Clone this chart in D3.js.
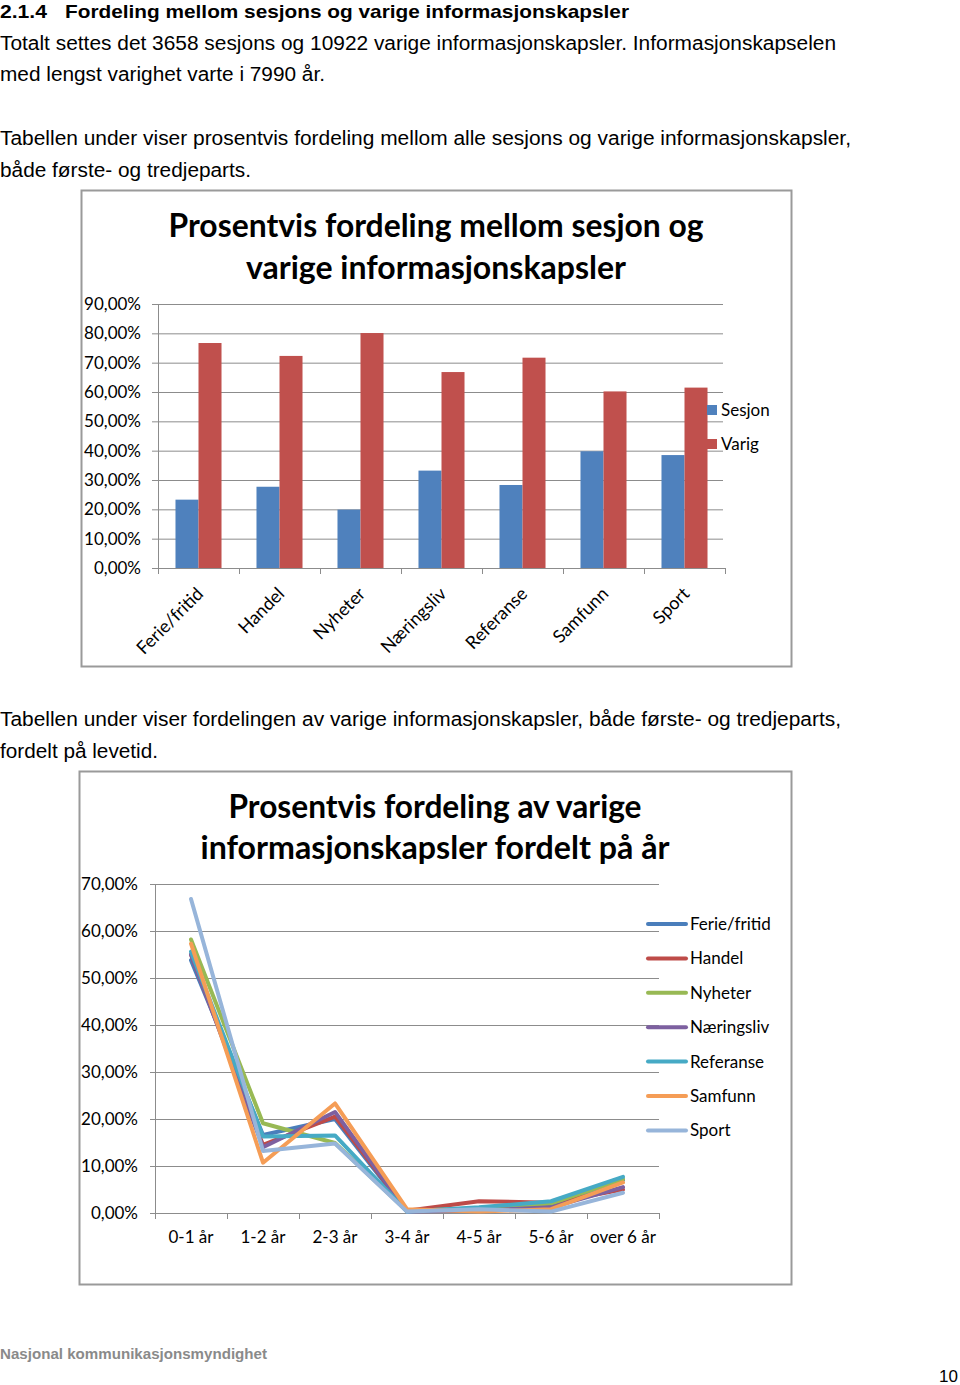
<!DOCTYPE html>
<html><head><meta charset="utf-8">
<script src="https://cdn.jsdelivr.net/npm/d3@7"></script>
<style>
html,body{margin:0;padding:0;background:#fff;}
svg{display:block;}
</style></head>
<body>
<script>
// ---------- DATA ----------
const barCategories = ["Ferie/fritid","Handel","Nyheter","Næringsliv","Referanse","Samfunn","Sport"];
const barSeries = ["Sesjon","Varig"];
const sesjonValues = [23.3, 27.7, 19.9, 33.2, 28.3, 39.8, 38.5];
const varigValues  = [76.7, 72.3, 80.1, 66.8, 71.7, 60.2, 61.5];
const barTicks = [0,10,20,30,40,50,60,70,80,90];

const lineCategories = ["0-1 år","1-2 år","2-3 år","3-4 år","4-5 år","5-6 år","over 6 år"];
const lineSeriesNames = ["Ferie/fritid","Handel","Nyheter","Næringsliv","Referanse","Samfunn","Sport"];
const ferieValues     = [53.8, 16.6, 20.0, 0.3, 0.8, 1.5, 7.0];
const handelValues    = [55.0, 14.5, 20.5, 0.5, 2.5, 2.2, 5.0];
const nyheterValues   = [58.2, 19.1, 14.9, 0.4, 1.0, 2.0, 7.2];
const naringslivValues= [55.0, 14.0, 21.5, 0.3, 0.5, 1.2, 5.5];
const referanseValues = [55.6, 16.3, 16.5, 0.3, 1.2, 2.5, 7.7];
const samfunnValues   = [57.3, 10.7, 23.3, 0.8, 0.3, 0.8, 6.5];
const sportValues     = [66.8, 13.2, 14.8, 0.3, 0.8, 0.3, 4.3];
const lineTicks = [0,10,20,30,40,50,60,70];

const W = 960, H = 1385;
const svg = d3.select("body").append("svg").attr("width", W).attr("height", H);

const bodyFont = "'Liberation Sans', Arial, sans-serif";
const chartFont = "Lato, 'Open Sans', sans-serif";
const pct = d => d.toFixed(2).replace(".", ",") + "%";

function txt(x, y, s, opts) {
  const t = svg.append("text").attr("x", x).attr("y", y).text(s)
    .attr("font-family", opts.font || bodyFont)
    .attr("font-size", opts.size || 19)
    .attr("font-weight", opts.bold ? "bold" : "normal")
    .attr("fill", opts.fill || "#000");
  if (opts.anchor) t.attr("text-anchor", opts.anchor);
  if (opts.len) t.attr("textLength", opts.len).attr("lengthAdjust", "spacingAndGlyphs");
  return t;
}

// ---------- PAGE TEXT ----------
txt(0, 18, "2.1.4", {bold:true, size:19, len:47});
txt(65, 18, "Fordeling mellom sesjons og varige informasjonskapsler", {bold:true, size:19, len:564});
txt(0, 50, "Totalt settes det 3658 sesjons og 10922 varige informasjonskapsler. Informasjonskapselen", {size:20, len:836});
txt(0, 81, "med lengst varighet varte i 7990 år.", {size:20, len:325});
txt(0, 145, "Tabellen under viser prosentvis fordeling mellom alle sesjons og varige informasjonskapsler,", {size:20, len:851});
txt(0, 177, "både første- og tredjeparts.", {size:20, len:251});
txt(0, 726, "Tabellen under viser fordelingen av varige informasjonskapsler, både første- og tredjeparts,", {size:20, len:841});
txt(0, 758, "fordelt på levetid.", {size:20, len:158});
txt(0, 1359, "Nasjonal kommunikasjonsmyndighet", {size:15, bold:true, fill:"#8a8a8a", len:267});
txt(958, 1382, "10", {size:17, anchor:"end"});

const gridColor = "#8c8c8c";
const frameColor = "#9a9a9a";

// ---------- CHART 1: grouped bars ----------
svg.append("rect").attr("x", 81.5).attr("y", 190.5).attr("width", 710).attr("height", 476)
  .attr("fill", "#fff").attr("stroke", frameColor).attr("stroke-width", 2);

txt(436, 237, "Prosentvis fordeling mellom sesjon og", {font:chartFont, size:32, bold:true, anchor:"middle", len:535});
txt(436, 279, "varige informasjonskapsler", {font:chartFont, size:32, bold:true, anchor:"middle", len:380});

const x0 = d3.scaleBand().domain(barCategories).range([158, 725]).padding(0);
const x1 = d3.scaleBand().domain(barSeries).range([0, x0.bandwidth()]).paddingInner(0).paddingOuter(0.76);
const y1 = d3.scaleLinear().domain([0, 90]).range([568, 304]);
const barColors = {Sesjon: "#4F81BD", Varig: "#C0504D"};

const g1 = svg.append("g");
g1.selectAll("line.grid").data(barTicks).enter().append("line")
  .attr("x1", 152).attr("x2", 723)
  .attr("y1", d => y1(d) + 0.5).attr("y2", d => y1(d) + 0.5)
  .attr("stroke", gridColor).attr("stroke-width", 1);
g1.append("line").attr("x1", 158.5).attr("x2", 158.5).attr("y1", y1(90)).attr("y2", y1(0))
  .attr("stroke", gridColor);
g1.selectAll("text.yl").data(barTicks).enter().append("text")
  .attr("x", 141).attr("y", d => y1(d)).attr("dy", "0.35em")
  .attr("text-anchor", "end").attr("font-family", chartFont).attr("font-size", 17)
  .attr("fill", "#000").text(pct);

const barData = barCategories.map((c, i) => ({cat: c, vals: [
  {s: "Sesjon", v: sesjonValues[i]}, {s: "Varig", v: varigValues[i]}]}));
const grp = g1.selectAll("g.cat").data(barData).enter().append("g")
  .attr("transform", d => `translate(${x0(d.cat)},0)`);
grp.selectAll("rect").data(d => d.vals).enter().append("rect")
  .attr("x", d => x1(d.s)).attr("width", x1.bandwidth())
  .attr("y", d => y1(d.v)).attr("height", d => y1(0) - y1(d.v))
  .attr("fill", d => barColors[d.s]);

g1.append("line").attr("x1", 158).attr("x2", 725).attr("y1", 568.5).attr("y2", 568.5).attr("stroke", gridColor);
const bounds1 = barCategories.map(c => x0(c)).concat([x0.range()[1]]);
g1.selectAll("line.xt").data(bounds1).enter().append("line")
  .attr("x1", d => d + 0.5).attr("x2", d => d + 0.5).attr("y1", 568).attr("y2", 574)
  .attr("stroke", gridColor);
g1.selectAll("text.xl").data(barCategories).enter().append("text")
  .attr("transform", d => `translate(${x0(d) + x0.bandwidth()/2 + 6},${595}) rotate(-45)`)
  .attr("text-anchor", "end").attr("font-family", chartFont).attr("font-size", 18)
  .attr("fill", "#000").text(d => d);

const leg1 = g1.selectAll("g.leg").data(barSeries).enter().append("g")
  .attr("transform", (d, i) => `translate(707,${405 + i * 34})`);
leg1.append("rect").attr("width", 10).attr("height", 10).attr("fill", d => barColors[d]);
leg1.append("text").attr("x", 14).attr("y", 5).attr("dy", "0.35em")
  .attr("font-family", chartFont).attr("font-size", 17).attr("fill", "#000").text(d => d);

// ---------- CHART 2: lines ----------
svg.append("rect").attr("x", 79.5).attr("y", 771.5).attr("width", 712).attr("height", 513)
  .attr("fill", "#fff").attr("stroke", frameColor).attr("stroke-width", 2);

txt(435, 818, "Prosentvis fordeling av varige", {font:chartFont, size:32, bold:true, anchor:"middle", len:413});
txt(435, 859, "informasjonskapsler fordelt på år", {font:chartFont, size:32, bold:true, anchor:"middle", len:469});

const xb = d3.scaleBand().domain(lineCategories).range([155, 659]).padding(0);
const y2 = d3.scaleLinear().domain([0, 70]).range([1213, 884]);
const lineColors = ["#4A7EBB", "#BE4B48", "#98B954", "#7D60A0", "#46AAC5", "#F59D56", "#97B5DA"];
const lineData = [ferieValues, handelValues, nyheterValues, naringslivValues, referanseValues, samfunnValues, sportValues];

const g2 = svg.append("g");
g2.selectAll("line.grid").data(lineTicks).enter().append("line")
  .attr("x1", 150).attr("x2", 659)
  .attr("y1", d => y2(d) + 0.5).attr("y2", d => y2(d) + 0.5)
  .attr("stroke", gridColor).attr("stroke-width", 1);
g2.append("line").attr("x1", 155.5).attr("x2", 155.5).attr("y1", y2(70)).attr("y2", y2(0)).attr("stroke", gridColor);
g2.selectAll("text.yl").data(lineTicks).enter().append("text")
  .attr("x", 138).attr("y", d => y2(d)).attr("dy", "0.35em")
  .attr("text-anchor", "end").attr("font-family", chartFont).attr("font-size", 17)
  .attr("fill", "#000").text(pct);
g2.append("line").attr("x1", 155).attr("x2", 659).attr("y1", 1213.5).attr("y2", 1213.5).attr("stroke", gridColor);
const bounds2 = lineCategories.map(c => xb(c)).concat([xb.range()[1]]);
g2.selectAll("line.xt").data(bounds2).enter().append("line")
  .attr("x1", d => d + 0.5).attr("x2", d => d + 0.5).attr("y1", 1213).attr("y2", 1219)
  .attr("stroke", gridColor);
g2.selectAll("text.xl").data(lineCategories).enter().append("text")
  .attr("x", d => xb(d) + xb.bandwidth()/2).attr("y", 1237).attr("dy", "0.35em")
  .attr("text-anchor", "middle").attr("font-family", chartFont).attr("font-size", 17)
  .attr("fill", "#000").text(d => d);

const line = d3.line()
  .x((d, i) => xb(lineCategories[i]) + xb.bandwidth()/2)
  .y(d => y2(d));
g2.selectAll("path.series").data(lineData).enter().append("path")
  .attr("d", d => line(d)).attr("fill", "none")
  .attr("stroke", (d, i) => lineColors[i]).attr("stroke-width", 4)
  .attr("stroke-linejoin", "round").attr("stroke-linecap", "round");

const leg2 = g2.selectAll("g.leg").data(lineSeriesNames).enter().append("g")
  .attr("transform", (d, i) => `translate(648,${924 + i * 34.4})`);
leg2.append("line").attr("x1", 0).attr("x2", 38).attr("y1", 0).attr("y2", 0)
  .attr("stroke", (d, i) => lineColors[i]).attr("stroke-width", 4).attr("stroke-linecap", "round");
leg2.append("text").attr("x", 42).attr("y", 0).attr("dy", "0.35em")
  .attr("font-family", chartFont).attr("font-size", 17).attr("fill", "#000").text(d => d);
</script>
</body></html>
